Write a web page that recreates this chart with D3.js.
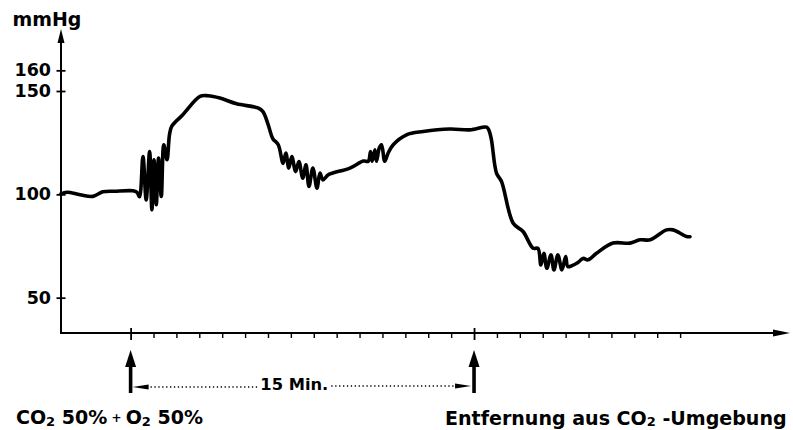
<!DOCTYPE html>
<html>
<head>
<meta charset="utf-8">
<script src="https://cdn.jsdelivr.net/npm/d3@7"></script>
<style>
body { margin: 0; background: #fff; }
svg { display: block; }
</style>
</head>
<body>
<script>
"use strict";

// minutes after start of CO2 breathing (t = 0) and arterial pressure in mmHg
const timeMin = [
	-3.04, -2.78, -2.21, -1.65, -1.21, -0.69, 0.10, 0.28, 0.39, 0.54,
	0.68, 0.83, 0.93, 1.02, 1.12, 1.22, 1.34, 1.45, 1.59, 1.70,
	1.80, 2.28, 3.03, 3.38, 3.90, 4.63, 5.56, 5.78, 6.00, 6.21,
	6.45, 6.66, 6.78, 6.91, 7.04, 7.21, 7.35, 7.52, 7.66, 7.79,
	7.96, 8.14, 8.27, 8.40, 8.62, 8.83, 9.58, 10.16, 10.38, 10.48,
	10.55, 10.67, 10.74, 10.86, 10.96, 11.10, 11.25, 11.47, 12.05, 12.78,
	13.94, 14.82, 15.55, 15.65, 15.76, 15.98, 16.20, 16.71, 17.14, 17.58,
	17.79, 17.92, 18.05, 18.18, 18.36, 18.49, 18.66, 18.84, 19.00, 19.10,
	19.28, 19.54, 19.76, 19.98, 20.35, 21.07, 21.81, 22.25, 22.69, 23.41,
	23.69, 24.28, 24.43
];
const pressure = [
	100.2, 101.0, 99.8, 99.0, 101.2, 101.5, 101.7, 101.0, 98.8, 118.3,
	97.3, 120.7, 92.5, 116.7, 95.0, 117.5, 99.0, 124.0, 116.7, 129.0,
	133.0, 138.5, 147.4, 147.7, 146.6, 143.8, 141.8, 140.0, 134.0, 127.0,
	124.0, 115.0, 120.0, 112.7, 118.3, 111.0, 115.9, 107.8, 114.3, 103.8,
	112.7, 103.0, 110.3, 107.0, 109.4, 110.3, 112.7, 116.1, 116.0, 120.7,
	116.0, 121.6, 116.0, 122.4, 124.0, 116.0, 120.0, 124.0, 128.8, 130.4,
	131.6, 131.2, 132.5, 131.0, 126.4, 110.3, 106.2, 86.0, 82.0, 73.9,
	73.9, 65.8, 71.5, 64.2, 70.7, 63.4, 70.7, 63.4, 69.9, 65.0,
	65.5, 67.0, 69.0, 68.3, 71.5, 76.4, 76.4, 78.0, 78.0, 82.8,
	82.8, 79.6, 79.5
];
const yTicks = [50, 100, 150, 160];
const minuteTicks = [0, 1, 2, 3, 4, 5, 6, 7, 8, 9, 10, 11, 12, 13, 14, 15, 16, 17, 18, 19, 20, 21, 22, 23, 24];
const eventMinutes = [0, 15];
const durationLabel = "15 Min.";

(function()
{
	//scale a text's font so it spans the wanted width
	function fit(text, size, wanted)
	{
		let w = text.node().getComputedTextLength();
		text.attr("font-size", size * wanted / w);
	}

	function draw()
	{
		const width = 793, height = 430;
		const font = "'DejaVu Sans', Verdana, sans-serif";

		let x = d3.scaleLinear().domain([-3.04, 28.8]).range([61, 790]);
		let y = d3.scaleLinear().domain([32.9, 180]).range([333, 29]);

		let svg = d3.select("body").append("svg")
			.attr("width", width)
			.attr("height", height)
			.attr("font-family", font)
			.attr("font-weight", "bold");
		svg.append("rect")
			.attr("width", width)
			.attr("height", height)
			.attr("fill", "white");

		//axis lines with arrow heads
		let x0 = x.range()[0], yb = y.range()[0], yt = y.range()[1], xr = x.range()[1];
		svg.append("line")
			.attr("x1", x0).attr("y1", yb + 1)
			.attr("x2", x0).attr("y2", yt + 10)
			.attr("stroke", "black").attr("stroke-width", 2);
		svg.append("path")
			.attr("d", "M" + x0 + "," + yt + "L" + (x0 - 3.5) + "," + (yt + 14) + "L" + (x0 + 3.5) + "," + (yt + 14) + "Z")
			.attr("fill", "black");
		svg.append("line")
			.attr("x1", x0 - 1).attr("y1", yb)
			.attr("x2", xr - 12).attr("y2", yb)
			.attr("stroke", "black").attr("stroke-width", 2);
		svg.append("path")
			.attr("d", "M" + xr + "," + yb + "L" + (xr - 17) + "," + (yb - 3.5) + "L" + (xr - 17) + "," + (yb + 3.5) + "Z")
			.attr("fill", "black");

		//y ticks, crossing the axis
		let yAxis = svg.append("g")
			.attr("transform", "translate(" + x0 + ",0)")
			.call(d3.axisLeft(y).tickValues(yTicks).tickSize(4.5).tickPadding(5.5));
		yAxis.select(".domain").remove();
		yAxis.selectAll(".tick line").attr("x1", 4.5).attr("stroke-width", 1.8);
		yAxis.selectAll(".tick text")
			.attr("font-family", font)
			.attr("font-weight", "bold")
			.attr("font-size", 17.5)
			.attr("fill", "black");

		//minute ticks below the axis, events cross it
		let xAxis = svg.append("g")
			.attr("transform", "translate(0," + yb + ")")
			.call(d3.axisBottom(x).tickValues(minuteTicks).tickSize(5).tickFormat(""));
		xAxis.select(".domain").remove();
		xAxis.selectAll(".tick line").attr("stroke-width", 1.4);
		xAxis.selectAll(".tick")
			.filter(function(d) { return eventMinutes.indexOf(d) >= 0; })
			.select("line")
			.attr("y1", -5).attr("y2", 7).attr("stroke-width", 1.8);

		let unit = svg.append("text")
			.attr("x", 12.5).attr("y", 26)
			.attr("font-size", 19)
			.text("mmHg");
		fit(unit, 19, 69);

		//pressure trace
		let path_func = d3.line()
			.x(function(d, i) { return x(timeMin[i]); })
			.y(function(d) { return y(d); })
			.curve(d3.curveCatmullRom.alpha(0.5));
		svg.append("path")
			.attr("d", path_func(pressure))
			.attr("fill", "none")
			.attr("stroke", "black")
			.attr("stroke-width", 3.6)
			.attr("stroke-linejoin", "round")
			.attr("stroke-linecap", "round");

		//event arrows under the axis
		let ax = eventMinutes.map(function(m) { return x(m); });
		ax.forEach(function(px)
		{
			svg.append("rect")
				.attr("x", px - 1.8).attr("y", 364)
				.attr("width", 3.6).attr("height", 29)
				.attr("fill", "black");
			svg.append("path")
				.attr("d", "M" + px + ",350L" + (px - 5.5) + ",367L" + (px + 5.5) + ",367Z")
				.attr("fill", "black");
		});

		let mid = (ax[0] + ax[1]) / 2 - 8;
		let dur = svg.append("text")
			.attr("x", mid).attr("y", 389.5)
			.attr("text-anchor", "middle")
			.attr("font-size", 16)
			.text(durationLabel);
		fit(dur, 16, 68);
		let tw = dur.node().getComputedTextLength();
		let ly = 387;
		svg.append("line")
			.attr("x1", ax[0] + 16).attr("y1", ly)
			.attr("x2", mid - tw / 2 - 2).attr("y2", ly)
			.attr("stroke", "black").attr("stroke-width", 1.4)
			.attr("stroke-dasharray", "1.3,2.6");
		svg.append("line")
			.attr("x1", mid + tw / 2 + 3).attr("y1", ly - 1)
			.attr("x2", ax[1] - 18).attr("y2", ly - 1)
			.attr("stroke", "black").attr("stroke-width", 1.4)
			.attr("stroke-dasharray", "1.3,2.6");
		svg.append("path")
			.attr("d", "M" + (ax[0] + 2) + "," + ly + "L" + (ax[0] + 18) + "," + (ly - 2.5) + "L" + (ax[0] + 18) + "," + (ly + 2.5) + "Z")
			.attr("fill", "black");
		svg.append("path")
			.attr("d", "M" + (ax[1] - 3) + "," + (ly - 1) + "L" + (ax[1] - 19) + "," + (ly - 3.5) + "L" + (ax[1] - 19) + "," + (ly + 1.5) + "Z")
			.attr("fill", "black");

		//event labels
		let t1 = svg.append("text")
			.attr("x", 16).attr("y", 424)
			.attr("font-size", 19);
		t1.append("tspan").text("CO");
		t1.append("tspan").attr("font-size", 13).attr("dy", 1.5).text("2");
		t1.append("tspan").attr("dy", -1.5).text(" 50%");
		t1.append("tspan").attr("font-size", 12).attr("dy", -2).text(" + ");
		t1.append("tspan").attr("dy", 2).text("O");
		t1.append("tspan").attr("font-size", 13).attr("dy", 1.5).text("2");
		t1.append("tspan").attr("dy", -1.5).text(" 50%");
		fit(t1, 19, 187);

		let t2 = svg.append("text")
			.attr("x", 445).attr("y", 424.5)
			.attr("font-size", 19);
		t2.append("tspan").text("Entfernung aus CO");
		t2.append("tspan").attr("font-size", 13).attr("dy", 1.5).text("2");
		t2.append("tspan").attr("dy", -1.5).text(" -Umgebung");
		fit(t2, 19, 342);
	}
	draw();
})();
</script>
</body>
</html>
